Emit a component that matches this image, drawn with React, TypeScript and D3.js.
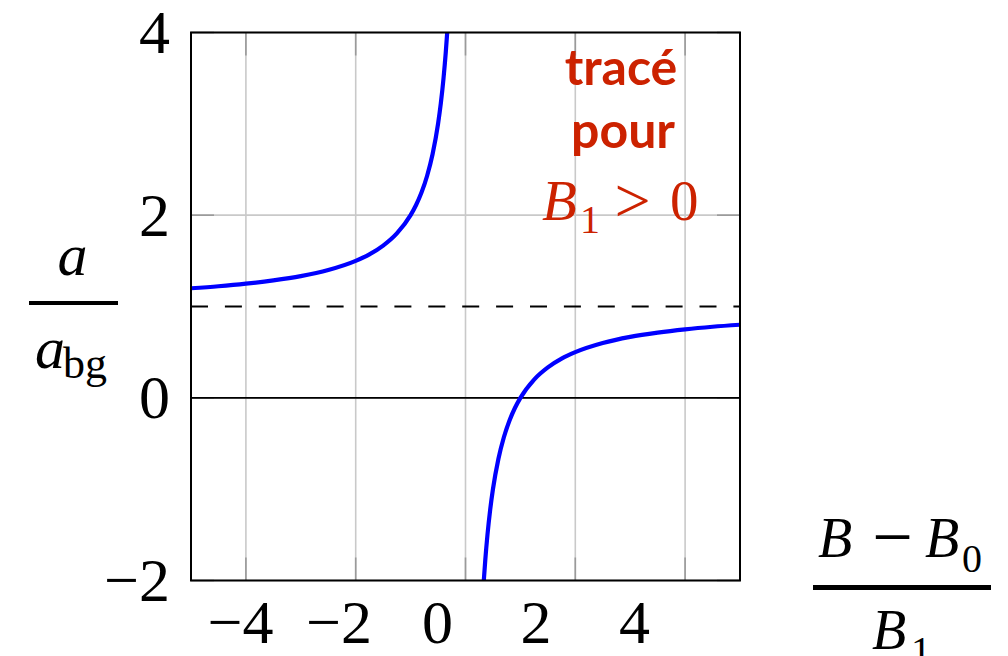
import React from "react";
import * as d3 from "d3";

// Reduced field (B - B0)/B1 and scattering length ratio a/a_bg, plotted for B1 > 0
const lowBranchX = [-5, -4.5, -4, -3.5, -3, -2.5, -2, -1.75, -1.5, -1.25, -1, -0.9, -0.8, -0.7, -0.6, -0.5, -0.45, -0.4, -0.36, -0.333];
const lowBranchY = [1.2, 1.222, 1.25, 1.286, 1.333, 1.4, 1.5, 1.571, 1.667, 1.8, 2, 2.111, 2.25, 2.429, 2.667, 3, 3.222, 3.5, 3.778, 4.003];
const highBranchX = [0.333, 0.36, 0.4, 0.45, 0.5, 0.6, 0.7, 0.8, 0.9, 1, 1.25, 1.5, 1.75, 2, 2.5, 3, 3.5, 4, 4.5, 5];
const highBranchY = [-2.003, -1.778, -1.5, -1.222, -1, -0.667, -0.429, -0.25, -0.111, 0, 0.2, 0.333, 0.429, 0.5, 0.6, 0.667, 0.714, 0.75, 0.778, 0.8];

const xTicks = [-4, -2, 0, 2, 4];
const yTicks = [-2, 0, 2, 4];
const background = 1; // a = a_bg asymptote

const W = 1008;
const H = 656;
const plot = { left: 191, right: 740, top: 32.5, bottom: 580.5 };

const x = d3.scaleLinear().domain([-5, 5]).range([plot.left, plot.right]);
const y = d3.scaleLinear().domain([-2, 4]).range([plot.bottom, plot.top]);
// tick labels sit on a slightly tighter spacing than the grid
const xLabel = d3.scaleLinear().domain([-4, 4]).range([240.5, 634.5]);

const fmt = (v: number) => (v < 0 ? "\u2212" + Math.abs(v) : String(v));

const line = d3
  .line<[number, number]>()
  .x((d) => x(d[0]))
  .y((d) => y(d[1]))
  .curve(d3.curveMonotoneX);

const zip = (xs: number[], ys: number[]) => xs.map((v, i) => [v, ys[i]] as [number, number]);

const serif = "'Liberation Serif', 'Times New Roman', serif";
const sans = "Lato, 'Open Sans', sans-serif";
const red = "#cc2200";

export default function App() {
  const gridColor = "#c9c9c9";
  const tickColor = "#9a9a9a";
  const tickLen = 23;
  return (
    <div style={{ position: "absolute", left: 0, top: 0 }}>
      <svg width={W} height={H} style={{ display: "block", background: "#fff" }}>
        <defs>
          <clipPath id="plotClip">
            <rect x={plot.left} y={plot.top} width={plot.right - plot.left} height={plot.bottom - plot.top} />
          </clipPath>
        </defs>

        {/* grid */}
        {xTicks.map((t) => (
          <line key={"gx" + t} x1={x(t)} x2={x(t)} y1={plot.top} y2={plot.bottom} stroke={gridColor} strokeWidth={1.6} />
        ))}
        {yTicks.map((t) => (
          <line key={"gy" + t} x1={plot.left} x2={plot.right} y1={y(t)} y2={y(t)} stroke={gridColor} strokeWidth={1.6} />
        ))}

        {/* tick marks */}
        {xTicks.map((t) => (
          <g key={"tx" + t}>
            <line x1={x(t)} x2={x(t)} y1={plot.top} y2={plot.top + tickLen} stroke={tickColor} strokeWidth={1.6} />
            <line x1={x(t)} x2={x(t)} y1={plot.bottom} y2={plot.bottom - tickLen} stroke={tickColor} strokeWidth={1.6} />
          </g>
        ))}
        {yTicks.map((t) => (
          <g key={"ty" + t}>
            <line x1={plot.left} x2={plot.left + tickLen} y1={y(t)} y2={y(t)} stroke={tickColor} strokeWidth={1.6} />
            <line x1={plot.right} x2={plot.right - tickLen} y1={y(t)} y2={y(t)} stroke={tickColor} strokeWidth={1.6} />
          </g>
        ))}

        {/* zero line and background asymptote */}
        <line x1={plot.left} x2={plot.right} y1={y(0)} y2={y(0)} stroke="#000" strokeWidth={1.8} />
        <line
          x1={plot.left}
          x2={plot.right}
          y1={y(background)}
          y2={y(background)}
          stroke="#000"
          strokeWidth={1.8}
          strokeDasharray="17 16.9"
        />

        {/* resonance curve */}
        <g clipPath="url(#plotClip)">
          <path d={line(zip(lowBranchX, lowBranchY)) || ""} fill="none" stroke="#0000ff" strokeWidth={4.2} />
          <path d={line(zip(highBranchX, highBranchY)) || ""} fill="none" stroke="#0000ff" strokeWidth={4.2} />
        </g>

        {/* frame */}
        <rect
          x={plot.left}
          y={plot.top}
          width={plot.right - plot.left}
          height={plot.bottom - plot.top}
          fill="none"
          stroke="#000"
          strokeWidth={2}
        />

        {/* tick labels */}
        {xTicks.map((t) => (
          <text key={"lx" + t} x={xLabel(t)} y={643} textAnchor="middle" fontFamily={serif} fontSize={62}>
            {fmt(t)}
          </text>
        ))}
        {yTicks.map((t) => (
          <text key={"ly" + t} x={170} y={y(t) + 20.5} textAnchor="end" fontFamily={serif} fontSize={62}>
            {fmt(t)}
          </text>
        ))}

        {/* y-axis label a / a_bg */}
        <g fontFamily={serif}>
          <text x={72.5} y={275} textAnchor="middle" fontSize={60} fontStyle="italic">
            a
          </text>
          <line x1={29} x2={118} y1={303} y2={303} stroke="#000" strokeWidth={4} />
          <text x={35} y={368} fontSize={60} fontStyle="italic">
            a
          </text>
          <text x={63} y={378} fontSize={44}>
            bg
          </text>
        </g>

        {/* x-axis label (B - B0) / B1 */}
        <g fontFamily={serif}>
          <text x={818} y={557} fontSize={56} fontStyle="italic">
            B
          </text>
          <text x={892.5} y={561} fontSize={72} textAnchor="middle">
            {"\u2212"}
          </text>
          <text x={925} y={557} fontSize={56} fontStyle="italic">
            B
          </text>
          <text x={962} y={572} fontSize={40}>
            0
          </text>
          <line x1={813} x2={991} y1={587.5} y2={587.5} stroke="#000" strokeWidth={5} />
          <text x={872} y={649} fontSize={56} fontStyle="italic">
            B
          </text>
          <text x={911} y={664} fontSize={40}>
            1
          </text>
        </g>

        {/* annotation */}
        <g fill={red}>
          <text x={621} y={85} textAnchor="middle" fontFamily={sans} fontWeight="bold" fontSize={50}>
            tracé
          </text>
          <text x={623} y={148} textAnchor="middle" fontFamily={sans} fontWeight="bold" fontSize={50}>
            pour
          </text>
          <text x={542} y={220} fontFamily={serif} fontSize={57} fontStyle="italic">
            B
          </text>
          <text x={580} y={233} fontFamily={serif} fontSize={40}>
            1
          </text>
          <text x={632.5} y={222} textAnchor="middle" fontFamily={serif} fontSize={64}>
            {">"}
          </text>
          <text x={670} y={220} fontFamily={serif} fontSize={57}>
            0
          </text>
        </g>
      </svg>
    </div>
  );
}
